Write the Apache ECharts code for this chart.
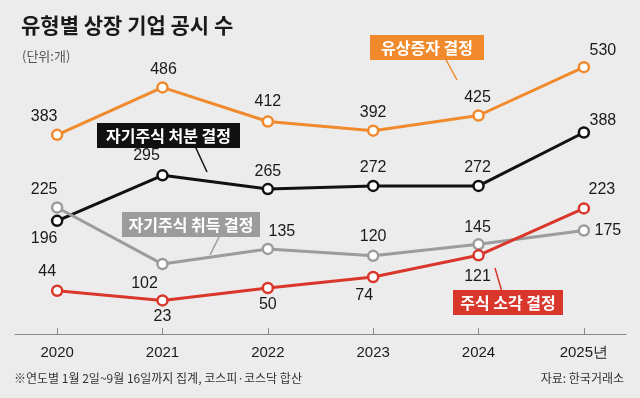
<!DOCTYPE html>
<html>
<head>
<meta charset="utf-8" />
<title>유형별 상장 기업 공시 수</title>
<script src="https://cdn.jsdelivr.net/npm/echarts@6/dist/echarts.min.js"></script>
<style>
  html, body { margin: 0; padding: 0; background: #ececec; }
  #main { width: 640px; height: 398px; }
</style>
</head>
<body>
<div id="main"></div>
<script type="text/javascript">
  // 데이터
  var years = ['2020', '2021', '2022', '2023', '2024', '2025년'];
  var rightsIssue = [383, 486, 412, 392, 425, 530];     // 유상증자 결정
  var treasurySell = [196, 295, 265, 272, 272, 388];    // 자기주식 처분 결정
  var treasuryBuy = [225, 102, 135, 120, 145, 175];     // 자기주식 취득 결정
  var cancelShares = [44, 23, 50, 74, 121, 223];        // 주식 소각 결정

  // 라벨 오프셋 (픽셀) - 스타일용
  var offOrange = [[-13, -18], [1, -18], [0, -20], [0, -18], [-1, -18], [19, -17]];
  var offBlack = [[-13, 18], [-16, -20], [0, -18], [0, -18], [-1, -18], [19, -12]];
  var offGray = [[-13, -18], [-18, 20], [14, -17], [0, -19], [-1, -17], [24, 0]];
  var offRed = [[-10, -19], [0, 16], [0, 17], [-9, 19], [-1, 21], [18, -19]];

  var numFont = '"Liberation Sans Narrow", "Liberation Sans", Arial, sans-serif';
  var krFont = '"Noto Sans CJK KR", sans-serif';

  function makeSeries(name, values, offs, color) {
    return {
      name: name,
      type: 'line',
      data: values.map(function (v, i) {
        return {
          value: [i, v],
          label: { offset: offs[i] }
        };
      }),
      symbol: 'circle',
      symbolSize: 10,
      lineStyle: { color: color, width: 3 },
      itemStyle: { color: '#fff', borderColor: color, borderWidth: 2.5 },
      label: {
        show: true,
        position: 'inside',
        color: '#1a1a1a',
        fontFamily: numFont,
        fontSize: 16,
        formatter: function (p) { return p.value[1]; }
      },
      z: 3
    };
  }

  // 시리즈 이름표
  function tag(x, y, w, text, color, px1, py1, px2, py2) {
    return [
      {
        type: 'line',
        shape: { x1: px1, y1: py1, x2: px2, y2: py2 },
        style: { stroke: color, lineWidth: 1.5 },
        z: 10
      },
      {
        type: 'rect',
        shape: { x: x, y: y, width: w, height: 25 },
        style: { fill: color },
        z: 11
      },
      {
        type: 'text',
        x: x + w / 2,
        y: y + 12.5,
        style: {
          text: text, fill: '#fff', font: 'bold 16px ' + krFont,
          align: 'center', verticalAlign: 'middle'
        },
        z: 12
      }
    ];
  }

  var myChart = echarts.init(document.getElementById('main'));

  myChart.setOption({
    backgroundColor: '#ececec',
    animation: false,
    grid: { left: 15, right: 14, top: 58, bottom: 64 },
    xAxis: {
      type: 'value',
      min: -0.4,
      max: 5.4,
      splitLine: { show: false },
      axisLine: { show: true, onZero: false, lineStyle: { color: '#8a8a8a', width: 1 } },
      axisTick: { show: true, inside: true, length: 6, customValues: [0, 1, 2, 3, 4, 5],
        lineStyle: { color: '#8a8a8a' } },
      axisLabel: {
        customValues: [0, 1, 2, 3, 4, 5],
        margin: 11,
        color: '#1a1a1a',
        fontSize: 15,
        fontFamily: numFont,
        formatter: function (v) { return years[Math.round(v)]; }
      }
    },
    yAxis: {
      type: 'value',
      min: -50,
      max: 550,
      show: false
    },
    series: [
      makeSeries('유상증자 결정', rightsIssue, offOrange, '#f08a2c'),
      makeSeries('자기주식 처분 결정', treasurySell, offBlack, '#111111'),
      makeSeries('자기주식 취득 결정', treasuryBuy, offGray, '#9c9c9c'),
      makeSeries('주식 소각 결정', cancelShares, offRed, '#d9372c')
    ],
    graphic: [
      {
        type: 'text', left: 21, top: 15,
        style: { text: '유형별 상장 기업 공시 수', fill: '#1a1a1a', font: 'bold 21px ' + krFont }
      },
      {
        type: 'text', left: 22, top: 50,
        style: { text: '(단위:개)', fill: '#555', font: '13px ' + krFont }
      },
      {
        type: 'text', left: 14, top: 372,
        style: { text: '※연도별 1월 2일~9월 16일까지 집계, 코스피·코스닥 합산', fill: '#333', font: '12px ' + krFont }
      },
      {
        type: 'text', right: 16, top: 372,
        style: { text: '자료: 한국거래소', fill: '#333', font: '12px ' + krFont }
      }
    ]
      .concat(tag(370, 35, 114, '유상증자 결정', '#f08a2c', 445, 58, 457, 80))
      .concat(tag(97, 123, 143, '자기주식 처분 결정', '#111111', 195, 146, 207, 172))
      .concat(tag(122, 212, 138, '자기주식 취득 결정', '#9c9c9c', 220, 235, 210, 255))
      .concat(tag(453, 290, 110, '주식 소각 결정', '#d9372c', 502, 292, 495, 268))
  });
</script>
</body>
</html>
